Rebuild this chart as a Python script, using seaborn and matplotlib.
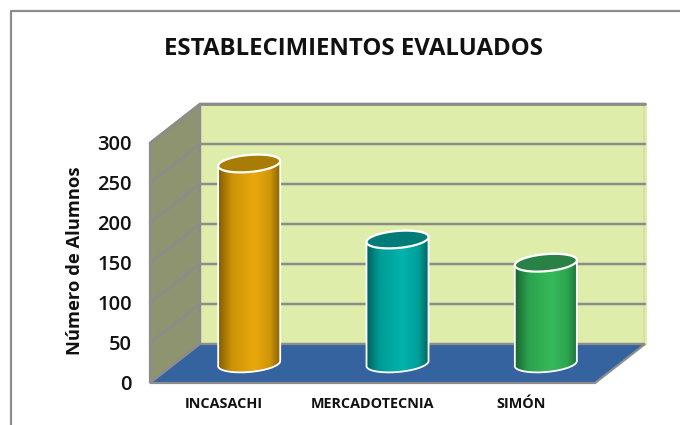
import numpy as np
import pandas as pd
import matplotlib
matplotlib.use("Agg")
import matplotlib.pyplot as plt
import seaborn as sns
from matplotlib.patches import Polygon, PathPatch
from matplotlib.path import Path
from matplotlib.colors import LinearSegmentedColormap, to_rgb
from matplotlib.transforms import IdentityTransform
from matplotlib.lines import Line2D

categories = ["INCASACHI", "MERCADOTECNIA", "SIMÓN"]
values = [250, 155, 126]
yticks = [0, 50, 100, 150, 200, 250, 300]
title = "ESTABLECIMIENTOS EVALUADOS"
ylabel = "Número de Alumnos"
side_colors = [("#7a5800", "#eaa90c", "#7d5a00", "#a97c05"),
               ("#005a58", "#00b4ad", "#005f5c", "#007c78"),
               ("#17622f", "#34ba5a", "#1b6a36", "#2a8146")]

W, H = 680, 425
sns.set_theme(style="white")
plt.rcParams["font.family"] = ["Open Sans", "DejaVu Sans"]
fig = plt.figure(figsize=(W / 100, H / 100), dpi=100, facecolor="white")

def axes_px(l, r, top, bottom):
    return fig.add_axes([l / W, 1 - bottom / H, (r - l) / W, (bottom - top) / H])

# front plane of the 3D box (pixels)
L, R, T, B = 150, 595, 143, 383
DX, DY = 50, 39
ax = axes_px(L, R, T, B)
ax.set_xlim(-0.5, 2.5)
ax.set_ylim(0, 300)
ax.patch.set_alpha(0)
sns.despine(ax=ax, left=True, bottom=True)

def to_px(x, y):
    return ax.transData.transform((x, y))

def wall(points, color, z):
    ax.add_patch(Polygon(points, closed=True, transform=IdentityTransform(),
                         facecolor=color, edgecolor="#8c8c8c", lw=1.6, zorder=z, clip_on=False))

off = np.array([DX, DY])
f0, f1 = to_px(-0.5, 0), to_px(2.5, 0)
t0, t1 = to_px(-0.5, 300), to_px(2.5, 300)
wall([t0 + off, t1 + off, f1 + off, f0 + off], "#dfedaa", 1)
# the back wall has no outline on its right side in the reference
ax.add_line(Line2D([f1[0] + DX, t1[0] + DX], [f1[1] + DY, t1[1] + DY], color="#dfedaa", lw=2,
                   transform=IdentityTransform(), zorder=1.2, clip_on=False))
wall([f0, t0, t0 + off, f0 + off], "#8e946f", 1.3)
wall([f0, f1, f1 + off, f0 + off], "#34639f", 2)
ax.add_line(Line2D([t0[0] + DX, t1[0] + DX], [t0[1] + DY, t1[1] + DY], color="#8c8c8c", lw=2,
                   transform=IdentityTransform(), zorder=3, clip_on=False))
for v in yticks[1:]:
    a = to_px(-0.5, v)
    b = to_px(2.5, v)
    ax.add_line(Line2D([a[0], a[0] + DX, b[0] + DX], [a[1], a[1] + DY, b[1] + DY],
                       color="#8c8c8c", lw=1.8, transform=IdentityTransform(), zorder=1.5, clip_on=False))

ax.set_xticks(range(3))
ax.set_xticklabels(categories, fontsize=10.4, fontweight="bold", color="#111111")
ax.set_yticks(yticks)
ax.set_yticklabels([str(v) for v in yticks], fontsize=14.5, fontweight="semibold", color="#111111")
ax.tick_params(axis="x", length=0, pad=10)
ax.tick_params(axis="y", length=0, pad=13)

# middle plane: cylinders
ax2 = axes_px(L + DX / 2, R + DX / 2, T - DY / 2, B - DY / 2)
df = pd.DataFrame({"establecimiento": categories, "alumnos": values})
sns.barplot(data=df, x="establecimiento", y="alumnos", hue="establecimiento", width=0.42,
            palette=[c[1] for c in side_colors], legend=False, ax=ax2)
ax2.set_xlim(-0.5, 2.5)
ax2.set_ylim(0, 300)
ax2.axis("off")
fig.canvas.draw()

TILT = np.deg2rad(5)

def ellipse_pts(cx, cy, a, b, t0=0, t1=2 * np.pi, n=80):
    t = np.linspace(t0, t1, n)
    x, y = a * np.cos(t), b * np.sin(t)
    return np.column_stack([cx + x * np.cos(TILT) - y * np.sin(TILT),
                            cy + x * np.sin(TILT) + y * np.cos(TILT)])

def mix(c, d, f):
    return tuple(np.array(to_rgb(c)) * (1 - f) + np.array(to_rgb(d)) * f)

for patch, (c1, c2, c3, ctop) in zip(list(ax2.patches), side_colors):
    (x0, y0), (x1, y1) = ax2.transData.transform(patch.get_bbox().get_points())
    patch.set_visible(False)
    cx, a, b = (x0 + x1) / 2, (x1 - x0) / 2, 8.5
    top = ellipse_pts(cx, y1, a, b, 0, np.pi)
    bot = ellipse_pts(cx, y0, a, b, np.pi, 2 * np.pi)
    body = np.vstack([top, bot, top[:1]])
    cmap = LinearSegmentedColormap.from_list(
        "c", [(0, c1), (0.22, mix(c1, c2, 0.72)), (0.58, c2), (0.82, mix(c3, c2, 0.75)), (1, c3)])
    im = ax2.imshow(np.linspace(0, 1, 128)[None, :], cmap=cmap, aspect="auto",
                    extent=(x0 - 1, x1 + 1, y0 - 20, y1 + 20), transform=IdentityTransform(), zorder=4)
    im.set_clip_box(fig.bbox)
    im.set_clip_path(Path(body), IdentityTransform())
    ax2.add_patch(PathPatch(Path(body), transform=IdentityTransform(), facecolor="none",
                            edgecolor="white", lw=1.3, zorder=5, clip_on=False))
    ax2.add_patch(Polygon(ellipse_pts(cx, y1, a, b), closed=True, transform=IdentityTransform(),
                          facecolor=ctop, edgecolor="white", lw=1.6, zorder=6, clip_on=False))
ax2.set_xlim(-0.5, 2.5)
ax2.set_ylim(0, 300)

fig.text(353 / W, 1 - 49 / H, title, ha="center", va="center", fontsize=17.3, fontweight="bold", color="#111111")
fig.text(75 / W, 1 - 261 / H, ylabel, ha="center", va="center", rotation=90, fontsize=13.2, fontweight="bold", color="#111111")

# chart frame (top and left edges)
fig.add_artist(Line2D([10.5 / W, 10.5 / W, 1], [0, 1 - 11 / H, 1 - 11 / H], color="#8c8c8c", lw=1.6))

fig.savefig("out.png", dpi=100)
